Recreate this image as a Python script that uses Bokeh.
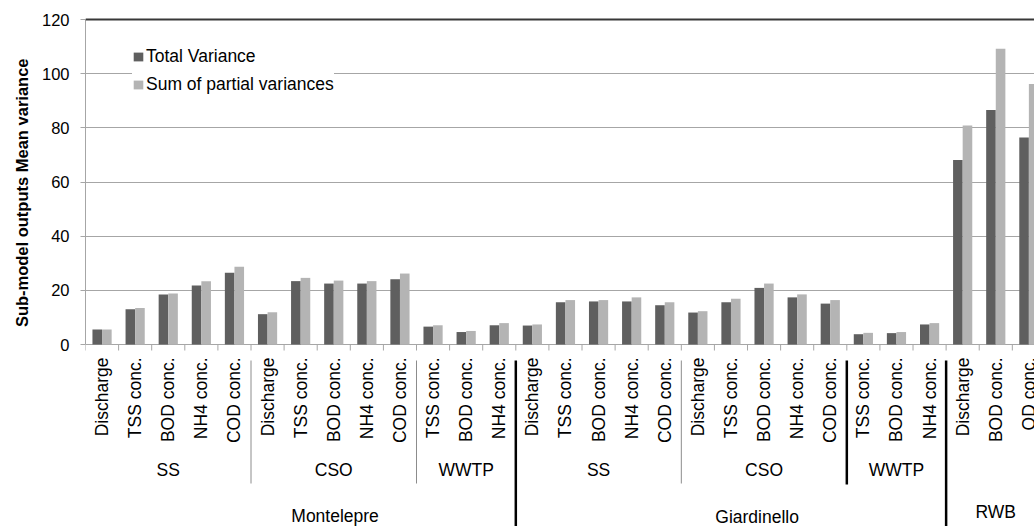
import math
from bokeh.plotting import figure
from bokeh.models import (Range1d, FixedTicker, Span, Title, Legend, LegendItem,
                          ColumnDataSource)
from bokeh.core.properties import value
from bokeh.embed import file_html
from bokeh.resources import INLINE

# ---------------- data ----------------
categories = ["Discharge", "TSS conc.", "BOD conc.", "NH4 conc.", "COD conc.",
              "Discharge", "TSS conc.", "BOD conc.", "NH4 conc.", "COD conc.",
              "TSS conc.", "BOD conc.", "NH4 conc.",
              "Discharge", "TSS conc.", "BOD conc.", "NH4 conc.", "COD conc.",
              "Discharge", "TSS conc.", "BOD conc.", "NH4 conc.", "COD conc.",
              "TSS conc.", "BOD conc.", "NH4 conc.",
              "Discharge", "BOD conc.", "OD conc."]
group_names = ["SS", "CSO", "WWTP", "SS", "CSO", "WWTP", ""]
group_sizes = [5, 5, 3, 5, 5, 3, 3]
site_names = ["Montelepre", "Giardinello", "RWB"]
site_sizes = [13, 13, 3]
total_variance = [5.5, 13.0, 18.5, 21.8, 26.5, 11.2, 23.4, 22.5, 22.5, 24.1, 6.6, 4.6, 7.1,
                  7.0, 15.6, 15.9, 15.9, 14.5, 11.8, 15.6, 20.9, 17.4, 15.1, 3.8, 4.2, 7.4,
                  68.1, 86.6, 76.4]
sum_partial = [5.5, 13.5, 18.8, 23.4, 28.7, 11.9, 24.6, 23.6, 23.4, 26.2, 7.1, 5.0, 7.9,
               7.4, 16.4, 16.4, 17.4, 15.6, 12.3, 16.9, 22.5, 18.5, 16.4, 4.3, 4.6, 7.9,
               80.9, 109.2, 96.2]
y_ticks = [0, 20, 40, 60, 80, 100, 120]
series_names = ["Total Variance", "Sum of partial variances"]
y_title = "Sub-model outputs Mean variance"

# ---------------- layout / style ----------------
FONT = "Liberation Sans"
DARK = "#5f5f5f"
LIGHT = "#b4b4b4"
GRID = "#a6a6a6"
PX = 325.0 / 120.0            # pixels per y unit
X_VISIBLE = 28.67             # visible categories (chart is cut at the right)
BAR_W = 0.29
heavy_after_group = [4]       # group separators drawn heavy
site_label_dx = [1.04, 0.79, 0.0]
site_label_px = [171, 172, 167.5]

n = len(categories)
x_c = [i + 0.5 for i in range(n)]
src = ColumnDataSource(dict(
    xd=[x - BAR_W / 2 for x in x_c], xl=[x + BAR_W / 2 for x in x_c], x=x_c,
    tv=total_variance, sp=sum_partial, cat=categories))

p = figure(width=1034, height=526, title=None,
           x_range=Range1d(0, X_VISIBLE),
           y_range=Range1d(-182 / PX, 327 / PX),
           x_axis_type=None, output_backend="svg", toolbar_location=None,
           min_border_left=85, min_border_right=0, min_border_top=17, min_border_bottom=0)
p.outline_line_color = None
p.background_fill_color = "white"
p.border_fill_color = "white"

ax = p.yaxis[0]
ax.ticker = FixedTicker(ticks=y_ticks)
ax.bounds = (0, 120)
ax.major_label_text_font = FONT
ax.major_label_text_font_size = "16.5px"
ax.major_label_text_color = "black"
ax.major_label_standoff = 11
ax.major_tick_out = 5
ax.major_tick_in = 0
ax.minor_tick_out = 0
ax.minor_tick_in = 0
ax.axis_line_color = GRID
ax.major_tick_line_color = GRID

g = p.ygrid[0]
g.ticker = FixedTicker(ticks=y_ticks)
g.bounds = (0, 120)
g.grid_line_color = GRID
g.grid_line_width = 1.2

p.add_layout(Span(location=y_ticks[-1], dimension="width", line_color="#383838", line_width=2))

r1 = p.vbar(x="xd", width=BAR_W, top="tv", bottom=0, source=src, fill_color=DARK, line_color=None)
r2 = p.vbar(x="xl", width=BAR_W, top="sp", bottom=0, source=src, fill_color=LIGHT, line_color=None)

# category tick marks below the baseline
edges = list(range(n + 1))
p.segment(x0=edges, y0=[0] * len(edges), x1=edges, y1=[-6 / PX] * len(edges),
          line_color=GRID, line_width=1)

# category labels
p.text(x="x", y=-13 / PX, text="cat", source=src, angle=math.pi / 2,
       text_align="right", text_baseline="middle", text_font=value(FONT),
       text_font_size="17.5px", text_color="black")

# group labels and separators
starts = []
acc = 0
for s in group_sizes:
    starts.append(acc)
    acc += s
site_edges = []
acc = 0
for s in site_sizes:
    acc += s
    site_edges.append(acc)

gx, gy, gt = [], [], []
for i, (name, s0, sz) in enumerate(zip(group_names, starts, group_sizes)):
    if name:
        gx.append(s0 + sz / 2)
        gy.append(-125 / PX)
        gt.append(name)
p.text(x=gx, y=gy, text=gt, text_align="center", text_baseline="middle",
       text_font=value(FONT), text_font_size="17.5px", text_color="black")

thin_x, heavy_x = [], []
for i, (s0, sz) in enumerate(zip(starts, group_sizes)):
    e = s0 + sz
    if e in site_edges:
        continue
    (heavy_x if i in heavy_after_group else thin_x).append(e)
p.segment(x0=thin_x, y0=[-16 / PX] * len(thin_x), x1=thin_x, y1=[-139 / PX] * len(thin_x),
          line_color="#8c8c8c", line_width=1)
p.segment(x0=heavy_x, y0=[-16 / PX] * len(heavy_x), x1=heavy_x, y1=[-140 / PX] * len(heavy_x),
          line_color="black", line_width=2.5)
site_x = site_edges[:-1]
p.segment(x0=site_x, y0=[-16 / PX] * len(site_x), x1=site_x, y1=[-200 / PX] * len(site_x),
          line_color="black", line_width=2.5)

# site labels
sx, sy = [], []
acc = 0
for sz, dx, dy in zip(site_sizes, site_label_dx, site_label_px):
    sx.append(acc + sz / 2 + dx)
    sy.append(-dy / PX)
    acc += sz
p.text(x=sx, y=sy, text=site_names, text_align="center", text_baseline="middle",
       text_font=value(FONT), text_font_size="17.5px", text_color="black")

# y axis title
p.add_layout(Title(text=y_title, align="right", offset=41, standoff=16,
                   text_font=FONT, text_font_size="16.5px", text_font_style="bold",
                   text_color="black"), "left")

legend = Legend(items=[LegendItem(label=series_names[0], renderers=[r1]),
                       LegendItem(label=series_names[1], renderers=[r2])],
                location=(47, 431), orientation="vertical",
                glyph_width=12, glyph_height=11, label_standoff=2, spacing=7,
                padding=10, margin=0, label_height=20,
                background_fill_color="white", background_fill_alpha=1,
                border_line_color=None, label_text_font=FONT,
                label_text_font_size="17.5px", label_text_color="black")
p.add_layout(legend)

open("out.html", "w").write(file_html(p, INLINE))
